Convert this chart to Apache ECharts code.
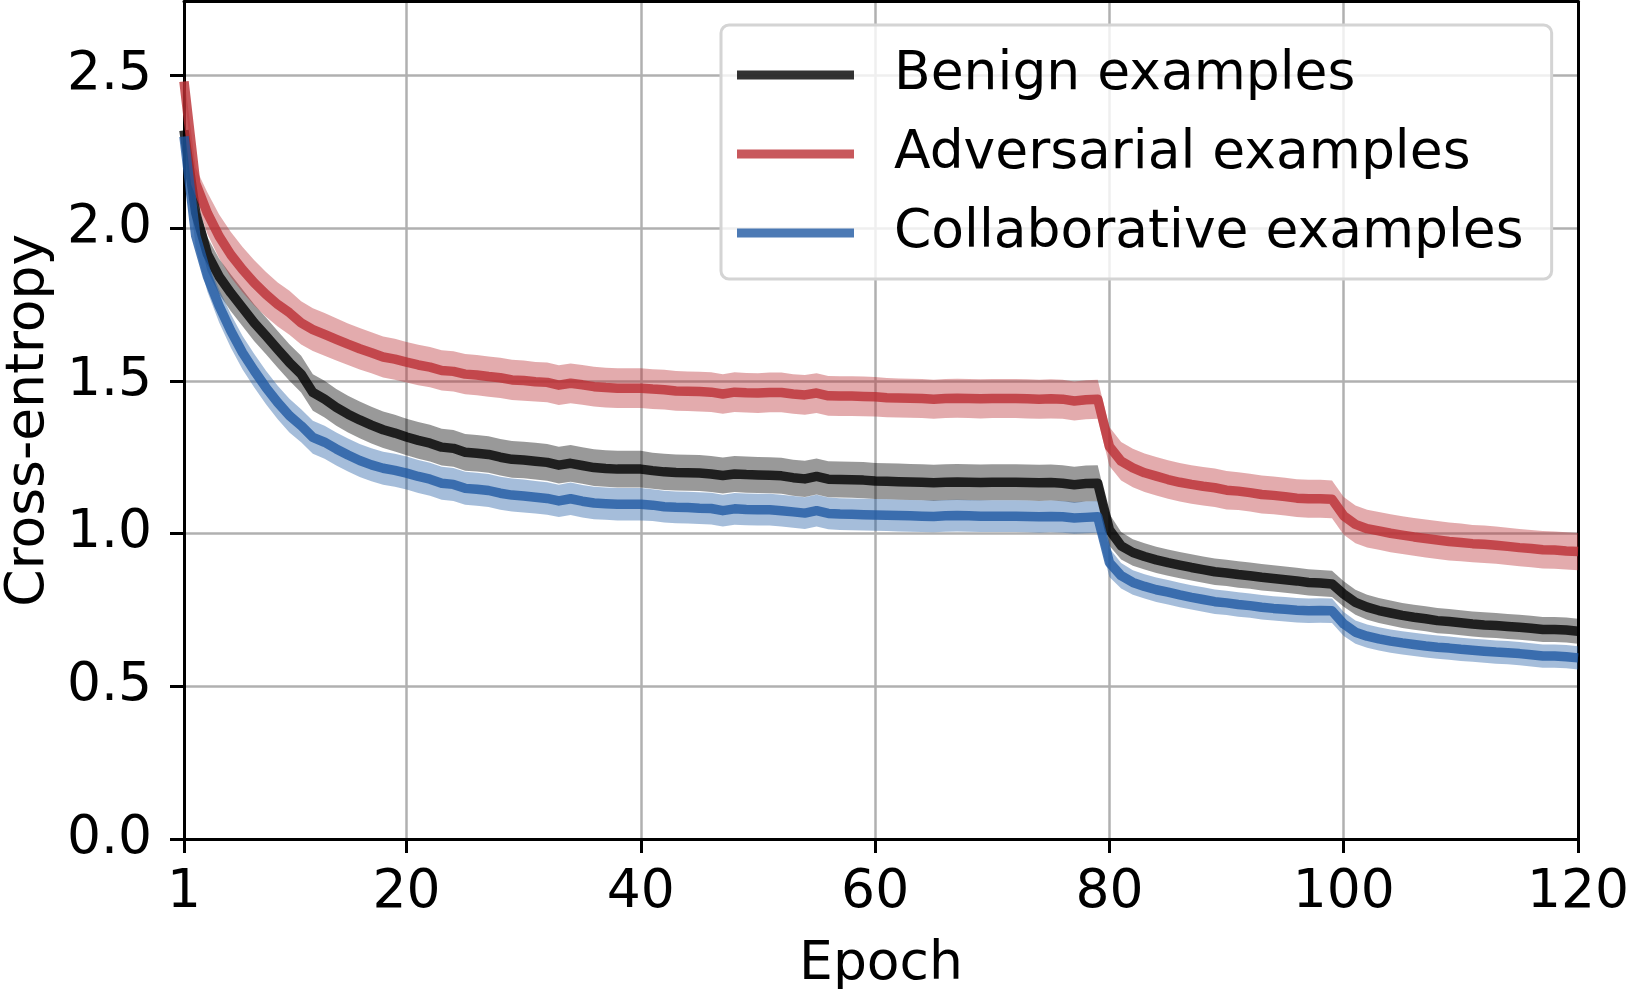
<!DOCTYPE html>
<html><head><meta charset="utf-8">
<script src="https://cdn.jsdelivr.net/npm/echarts@6/dist/echarts.min.js"></script>
<style>html,body{margin:0;padding:0;background:#fff}#chart{width:1630px;height:989px}</style>
</head><body><div id="chart"></div>
<script>
// ---- data ----
const xTicks = [1, 20, 40, 60, 80, 100, 120];
const yTicks = [0, 0.5, 1.0, 1.5, 2.0, 2.5];
const seriesNames = ['Benign examples', 'Adversarial examples', 'Collaborative examples'];

const benign = [
  2.320, 2.050, 1.915, 1.842, 1.788, 1.739, 1.690, 1.647, 1.603, 1.560,
  1.522, 1.462, 1.440, 1.413, 1.391, 1.372, 1.355, 1.340, 1.329, 1.316,
  1.305, 1.296, 1.283, 1.279, 1.266, 1.263, 1.259, 1.250, 1.243, 1.241,
  1.237, 1.233, 1.224, 1.230, 1.223, 1.216, 1.213, 1.211, 1.211, 1.211,
  1.206, 1.202, 1.200, 1.199, 1.198, 1.195, 1.190, 1.195, 1.193, 1.192,
  1.191, 1.189, 1.183, 1.179, 1.187, 1.178, 1.177, 1.176, 1.175, 1.172,
  1.171, 1.170, 1.169, 1.168, 1.166, 1.168, 1.169, 1.168, 1.167, 1.168,
  1.168, 1.168, 1.167, 1.166, 1.167, 1.165, 1.160, 1.164, 1.165, 1.012,
  0.960, 0.938, 0.925, 0.914, 0.905, 0.897, 0.889, 0.882, 0.875, 0.871,
  0.866, 0.862, 0.857, 0.853, 0.849, 0.845, 0.840, 0.838, 0.835, 0.802,
  0.775, 0.759, 0.748, 0.740, 0.732, 0.726, 0.721, 0.715, 0.712, 0.708,
  0.704, 0.701, 0.699, 0.696, 0.693, 0.690, 0.686, 0.686, 0.684, 0.680
];
const benignStd = [
  0.020, 0.040, 0.055, 0.058, 0.060, 0.060, 0.060, 0.060, 0.060, 0.060,
  0.060, 0.060, 0.060, 0.060, 0.060, 0.060, 0.060, 0.060, 0.060, 0.060,
  0.060, 0.060, 0.060, 0.060, 0.060, 0.060, 0.060, 0.060, 0.060, 0.060,
  0.060, 0.060, 0.060, 0.060, 0.060, 0.060, 0.060, 0.060, 0.060, 0.060,
  0.059, 0.059, 0.059, 0.059, 0.059, 0.059, 0.059, 0.059, 0.059, 0.059,
  0.059, 0.059, 0.059, 0.059, 0.059, 0.059, 0.059, 0.059, 0.059, 0.059,
  0.059, 0.059, 0.059, 0.059, 0.059, 0.059, 0.059, 0.059, 0.059, 0.059,
  0.059, 0.059, 0.059, 0.059, 0.059, 0.059, 0.059, 0.059, 0.059, 0.052,
  0.045, 0.043, 0.043, 0.043, 0.043, 0.043, 0.043, 0.043, 0.043, 0.043,
  0.043, 0.043, 0.043, 0.043, 0.043, 0.043, 0.043, 0.043, 0.043, 0.042,
  0.041, 0.041, 0.041, 0.041, 0.041, 0.041, 0.041, 0.041, 0.041, 0.041,
  0.041, 0.041, 0.041, 0.041, 0.041, 0.041, 0.041, 0.041, 0.041, 0.041
];

const adversarial = [
  2.480, 2.147, 2.049, 1.973, 1.913, 1.864, 1.821, 1.783, 1.750, 1.723,
  1.690, 1.668, 1.652, 1.636, 1.620, 1.605, 1.592, 1.578, 1.571, 1.561,
  1.552, 1.545, 1.534, 1.531, 1.522, 1.519, 1.514, 1.510, 1.503, 1.501,
  1.497, 1.495, 1.486, 1.492, 1.487, 1.481, 1.478, 1.476, 1.476, 1.476,
  1.473, 1.471, 1.467, 1.466, 1.465, 1.463, 1.457, 1.463, 1.461, 1.460,
  1.462, 1.462, 1.457, 1.454, 1.460, 1.451, 1.450, 1.450, 1.449, 1.448,
  1.445, 1.444, 1.443, 1.442, 1.440, 1.442, 1.443, 1.442, 1.441, 1.442,
  1.442, 1.442, 1.441, 1.440, 1.441, 1.440, 1.434, 1.438, 1.440, 1.285,
  1.237, 1.215, 1.199, 1.188, 1.177, 1.168, 1.161, 1.155, 1.150, 1.142,
  1.139, 1.134, 1.128, 1.125, 1.121, 1.116, 1.114, 1.114, 1.112, 1.058,
  1.030, 1.016, 1.009, 1.001, 0.995, 0.989, 0.984, 0.979, 0.974, 0.971,
  0.967, 0.965, 0.962, 0.958, 0.954, 0.951, 0.947, 0.946, 0.943, 0.941
];
const adversarialStd = [
  0.020, 0.050, 0.068, 0.072, 0.074, 0.074, 0.074, 0.073, 0.072, 0.072,
  0.071, 0.070, 0.070, 0.069, 0.068, 0.068, 0.067, 0.067, 0.067, 0.066,
  0.066, 0.066, 0.066, 0.066, 0.066, 0.066, 0.066, 0.066, 0.066, 0.066,
  0.065, 0.065, 0.065, 0.065, 0.065, 0.065, 0.065, 0.065, 0.065, 0.065,
  0.065, 0.065, 0.065, 0.065, 0.065, 0.065, 0.065, 0.065, 0.065, 0.065,
  0.065, 0.065, 0.065, 0.065, 0.065, 0.065, 0.065, 0.065, 0.065, 0.065,
  0.064, 0.064, 0.064, 0.064, 0.064, 0.064, 0.064, 0.064, 0.064, 0.064,
  0.064, 0.064, 0.064, 0.064, 0.064, 0.064, 0.064, 0.064, 0.064, 0.064,
  0.063, 0.063, 0.063, 0.063, 0.063, 0.063, 0.063, 0.063, 0.063, 0.063,
  0.062, 0.062, 0.062, 0.062, 0.062, 0.062, 0.062, 0.062, 0.062, 0.062,
  0.062, 0.062, 0.062, 0.062, 0.062, 0.062, 0.062, 0.062, 0.062, 0.062,
  0.061, 0.061, 0.061, 0.061, 0.061, 0.061, 0.061, 0.061, 0.061, 0.061
];

const collaborative = [
  2.300, 1.975, 1.842, 1.745, 1.663, 1.592, 1.533, 1.478, 1.429, 1.386,
  1.353, 1.315, 1.299, 1.277, 1.257, 1.239, 1.225, 1.214, 1.207, 1.198,
  1.187, 1.178, 1.165, 1.161, 1.148, 1.145, 1.141, 1.132, 1.126, 1.123,
  1.119, 1.115, 1.107, 1.114, 1.106, 1.100, 1.098, 1.096, 1.096, 1.096,
  1.093, 1.088, 1.086, 1.085, 1.083, 1.082, 1.075, 1.081, 1.079, 1.078,
  1.078, 1.075, 1.071, 1.067, 1.075, 1.066, 1.064, 1.063, 1.062, 1.061,
  1.060, 1.059, 1.058, 1.057, 1.056, 1.058, 1.059, 1.058, 1.057, 1.057,
  1.057, 1.057, 1.056, 1.055, 1.056, 1.055, 1.051, 1.053, 1.055, 0.905,
  0.862, 0.840, 0.827, 0.816, 0.808, 0.799, 0.791, 0.784, 0.777, 0.773,
  0.768, 0.764, 0.759, 0.755, 0.752, 0.749, 0.747, 0.748, 0.747, 0.704,
  0.677, 0.664, 0.655, 0.648, 0.642, 0.637, 0.632, 0.628, 0.625, 0.621,
  0.618, 0.615, 0.612, 0.610, 0.607, 0.603, 0.599, 0.599, 0.597, 0.593
];
const collaborativeStd = [
  0.020, 0.040, 0.050, 0.054, 0.055, 0.055, 0.055, 0.055, 0.055, 0.055,
  0.054, 0.054, 0.054, 0.054, 0.054, 0.054, 0.054, 0.054, 0.054, 0.054,
  0.054, 0.054, 0.054, 0.054, 0.054, 0.054, 0.054, 0.054, 0.054, 0.054,
  0.053, 0.053, 0.053, 0.053, 0.053, 0.053, 0.053, 0.053, 0.053, 0.053,
  0.052, 0.052, 0.052, 0.052, 0.052, 0.052, 0.052, 0.052, 0.052, 0.052,
  0.052, 0.052, 0.052, 0.052, 0.052, 0.052, 0.052, 0.052, 0.052, 0.052,
  0.052, 0.052, 0.052, 0.052, 0.052, 0.052, 0.052, 0.052, 0.052, 0.052,
  0.052, 0.052, 0.052, 0.052, 0.052, 0.052, 0.052, 0.052, 0.052, 0.047,
  0.042, 0.040, 0.040, 0.040, 0.040, 0.040, 0.040, 0.040, 0.040, 0.040,
  0.040, 0.040, 0.040, 0.040, 0.040, 0.040, 0.040, 0.040, 0.040, 0.039,
  0.038, 0.038, 0.038, 0.038, 0.038, 0.038, 0.038, 0.038, 0.038, 0.038,
  0.038, 0.038, 0.038, 0.038, 0.038, 0.038, 0.038, 0.038, 0.038, 0.038
];

// ---- build ----
const epochs = benign.map((_, i) => i + 1);
const FONT = 'DejaVu Sans';
const FS = 53.5;
function rgba(c, a) { return 'rgba(' + c[0] + ',' + c[1] + ',' + c[2] + ',' + a + ')'; }

function bandSeries(mean, std, col) {
  return {
    type: 'custom', data: [[1, 1]], silent: true, clip: true, animation: false,
    renderItem: function (params, api) {
      const pts = [];
      for (let i = 0; i < epochs.length; i++) pts.push(api.coord([epochs[i], mean[i] + std[i]]));
      for (let i = epochs.length - 1; i >= 0; i--) pts.push(api.coord([epochs[i], mean[i] - std[i]]));
      return { type: 'polygon', shape: { points: pts }, style: { fill: rgba(col, 0.4), stroke: null } };
    }
  };
}
function lineSeries(name, mean, col) {
  return {
    type: 'line', name: name, data: epochs.map((e, i) => [e, mean[i]]),
    symbol: 'none', showSymbol: false, color: rgba(col, 0.8),
    itemStyle: { color: rgba(col, 0.8) },
    lineStyle: { color: rgba(col, 0.8), width: 9.5, join: 'round', cap: 'butt' }, animation: false
  };
}

const cBenign = [0, 0, 0], cAdv = [186, 46, 51], cCol = [31, 89, 162];
const series = [
  bandSeries(benign, benignStd, cBenign), lineSeries(seriesNames[0], benign, cBenign),
  bandSeries(adversarial, adversarialStd, cAdv), lineSeries(seriesNames[1], adversarial, cAdv),
  bandSeries(collaborative, collaborativeStd, cCol), lineSeries(seriesNames[2], collaborative, cCol)
];

const txt = { fontFamily: FONT, fontSize: FS, color: '#000' };

const chart = echarts.init(document.getElementById('chart'), null, { renderer: 'canvas' });
chart.setOption({
  animation: false,
  backgroundColor: '#fff',
  grid: { left: 184, right: 52, top: 1.5, bottom: 150, containLabel: false, outerBoundsMode: 'none' },
  legend: {
    data: seriesNames, orient: 'vertical', left: 721, top: 25,
    itemWidth: 117, itemHeight: 9, itemGap: 21, icon: 'rect', selectedMode: false,
    padding: [21, 28, 17, 16],
    backgroundColor: 'rgba(255,255,255,0.8)', borderColor: '#d4d4d4', borderWidth: 3, borderRadius: 8,
    textStyle: Object.assign({}, txt, { lineHeight: 58, padding: [0, 0, 0, 35] })
  },
  xAxis: [
    { type: 'value', min: 1, max: 120, position: 'bottom',
      name: 'Epoch', nameLocation: 'middle', nameGap: 99, nameTextStyle: txt,
      axisLine: { show: true, onZero: false, lineStyle: { color: '#000', width: 3 } },
      axisTick: { show: true, length: 14, customValues: xTicks, lineStyle: { color: '#000', width: 3 } },
      axisLabel: Object.assign({ customValues: xTicks, margin: 27 }, txt),
      splitLine: { show: true, lineStyle: { color: '#b0b0b0', width: 2.5 } } },
    { type: 'value', min: 1, max: 120, position: 'top',
      axisLine: { show: true, onZero: false, lineStyle: { color: '#000', width: 3 } },
      axisTick: { show: false }, axisLabel: { show: false }, splitLine: { show: false } }
  ],
  yAxis: [
    { type: 'value', min: 0, max: 2.742, position: 'left',
      name: 'Cross-entropy', nameLocation: 'middle', nameRotate: 90, nameGap: 127, nameTextStyle: txt,
      axisLine: { show: true, onZero: false, lineStyle: { color: '#000', width: 3 } },
      axisTick: { show: true, length: 14, customValues: yTicks, lineStyle: { color: '#000', width: 3 } },
      axisLabel: Object.assign({ customValues: yTicks, margin: 32, formatter: v => v.toFixed(1) }, txt),
      splitLine: { show: true, lineStyle: { color: '#b0b0b0', width: 2.5 } } },
    { type: 'value', min: 0, max: 2.742, position: 'right',
      axisLine: { show: true, onZero: false, lineStyle: { color: '#000', width: 3 } },
      axisTick: { show: false }, axisLabel: { show: false }, splitLine: { show: false } }
  ],
  series: series
});
</script></body></html>
